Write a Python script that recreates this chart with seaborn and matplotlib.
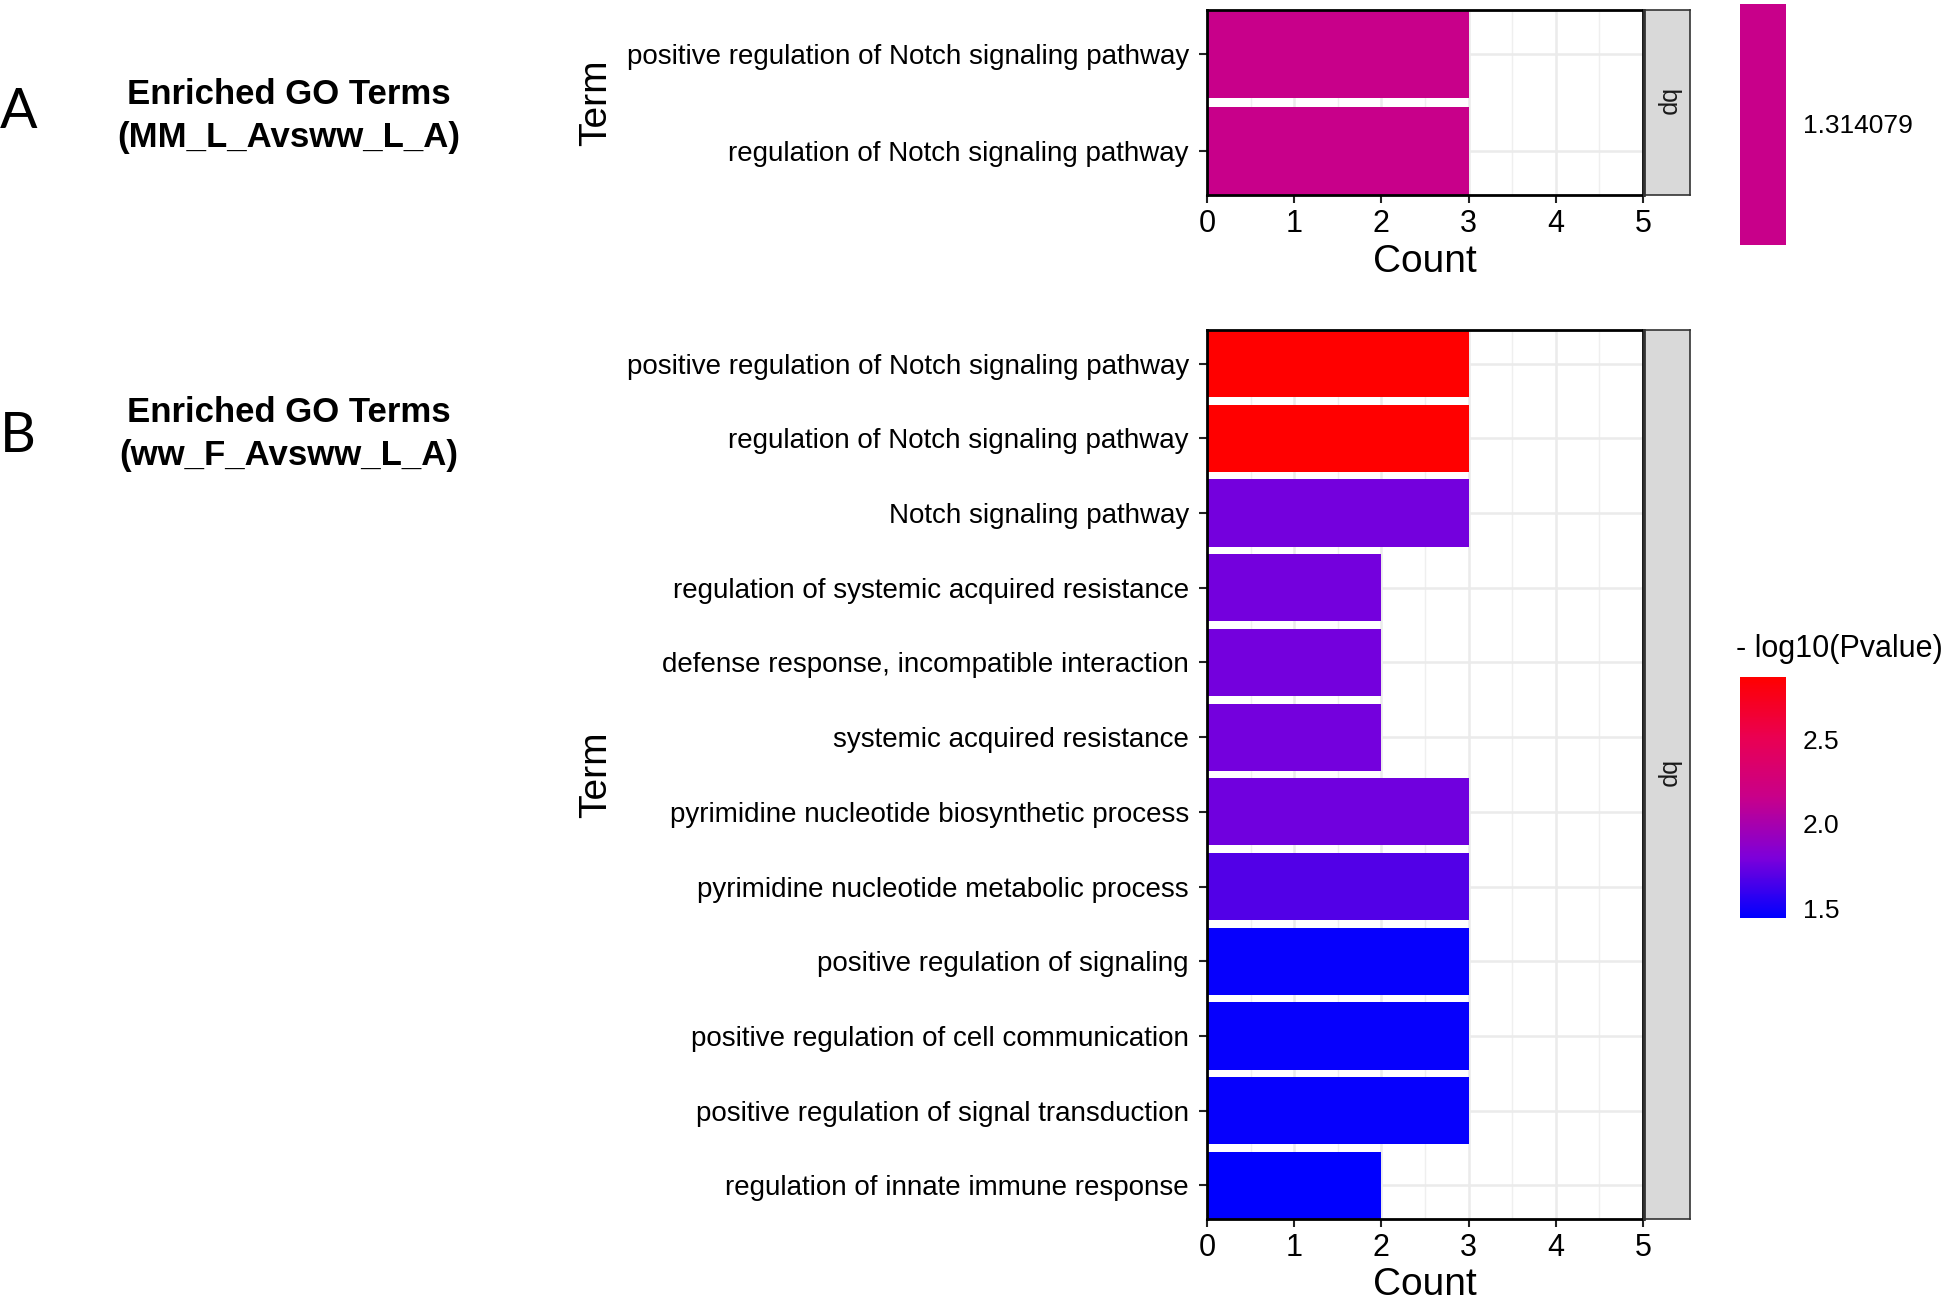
"""
GO enrichment bar charts (two comparisons) with -log10(Pvalue) colour scale.
Writes out.png.
"""

import matplotlib as mpl
import matplotlib.pyplot as plt
import numpy as np
import pandas as pd
import seaborn as sns
from matplotlib.colors import LinearSegmentedColormap, ListedColormap, Normalize

# --- data -----------------------------------------------------------------
terms_a = [
    "positive regulation of Notch signaling pathway",
    "regulation of Notch signaling pathway",
]
counts_a = [3, 3]
logp_a = [1.314079, 1.314079]

terms_b = [
    "positive regulation of Notch signaling pathway",
    "regulation of Notch signaling pathway",
    "Notch signaling pathway",
    "regulation of systemic acquired resistance",
    "defense response, incompatible interaction",
    "systemic acquired resistance",
    "pyrimidine nucleotide biosynthetic process",
    "pyrimidine nucleotide metabolic process",
    "positive regulation of signaling",
    "positive regulation of cell communication",
    "positive regulation of signal transduction",
    "regulation of innate immune response",
]
counts_b = [3, 3, 3, 2, 2, 2, 3, 3, 3, 3, 3, 2]
logp_b = [2.868, 2.868, 1.77, 1.77, 1.77, 1.77, 1.76, 1.68, 1.46, 1.46, 1.46, 1.441]
cbar_ticks_b = [1.5, 2.0, 2.5]

titles = ["Enriched GO Terms\n(MM_L_Avsww_L_A)", "Enriched GO Terms\n(ww_F_Avsww_L_A)"]
panel_tags = ["A", "B"]

# blue -> red gradient, roughly what ggplot's Lab interpolation gives
grad = LinearSegmentedColormap.from_list(
    "bluered",
    [(0.0, "#0000FF"), (0.25, "#7D00DA"), (0.5, "#C8008A"), (0.75, "#EA0052"), (1.0, "#FF0000")],
)

sns.set_style("white")
plt.rcParams["font.family"] = ["Liberation Sans", "DejaVu Sans"]
plt.rcParams["text.color"] = "black"
plt.rcParams["axes.labelcolor"] = "black"

W, H = 1944, 1301
fig = plt.figure(figsize=(W / 100, H / 100), dpi=100)


def frac_box(x0, y0, x1, y1):
    # pixel box (top-left origin) -> figure fraction rect
    return [x0 / W, 1 - y1 / H, (x1 - x0) / W, (y1 - y0) / H]


def draw_panel(box, terms, counts, colors, xlab_y):
    ax = fig.add_axes(frac_box(*box))
    df = pd.DataFrame({"Term": terms, "Count": counts})
    sns.barplot(
        data=df, x="Count", y="Term", hue="Term", palette=colors, dodge=False,
        legend=False, width=0.9, saturation=1, linewidth=0, orient="h", ax=ax,
    )
    n = len(terms)
    ax.set_xlim(0, 5)
    ax.set_ylim(n - 1 + 0.45, -0.45)
    ax.set_xticks(range(6))
    ax.set_xticks(np.arange(0.5, 5, 1), minor=True)
    ax.grid(True, which="major", color="#EBEBEB", lw=1.8)
    ax.grid(True, which="minor", axis="x", color="#EFEFEF", lw=1.0)
    ax.set_axisbelow(True)
    for sp in ax.spines.values():
        sp.set_color("black")
        sp.set_linewidth(2)
    ax.tick_params(axis="both", which="major", direction="out", length=6, width=1.5,
                   color="#222222", labelsize=20, labelcolor="black", left=True, bottom=True)
    ax.tick_params(axis="x", labelsize=22, pad=4)
    ax.tick_params(axis="y", pad=7)
    ax.tick_params(which="minor", length=0)
    ax.set_xlabel("Count", fontsize=28)
    ax.set_ylabel("Term", fontsize=28)
    ax.xaxis.set_label_coords(0.5, xlab_y)
    ax.yaxis.set_label_coords(-1.36, 0.5)

    # facet strip on the right
    x0, y0, x1, y1 = box
    sax = fig.add_axes(frac_box(x1 + 1, y0, 1690, y1))
    sax.set_facecolor("#D9D9D9")
    sax.set_xticks([])
    sax.set_yticks([])
    for sp in sax.spines.values():
        sp.set_color("#333333")
        sp.set_linewidth(1.2)
    sax.spines["left"].set_linewidth(2)
    sax.text(0.5, 0.5, "bp", rotation=-90, ha="center", va="center", fontsize=18,
             transform=sax.transAxes, color="#1A1A1A")
    return ax


# panel A: a single value, ggplot puts it at the middle of the scale
mid_color = grad(0.5)
draw_panel((1207, 10, 1643, 195), terms_a, counts_a, [mid_color] * len(terms_a), -0.265)

# panel B
norm_b = Normalize(vmin=1.441, vmax=2.868)
colors_b = [grad(norm_b(v)) for v in logp_b]
draw_panel((1207, 330, 1643, 1219), terms_b, counts_b, colors_b, -0.054)

# colour bars
cax_a = fig.add_axes(frac_box(1740, 4, 1786, 245))
sm_a = mpl.cm.ScalarMappable(norm=Normalize(1.30, 1.328), cmap=ListedColormap([mid_color]))
cb_a = fig.colorbar(sm_a, cax=cax_a)
cb_a.set_ticks([logp_a[0]], labels=[f"{logp_a[0]:.6f}"])

cax_b = fig.add_axes(frac_box(1740, 677, 1786, 918))
sm_b = mpl.cm.ScalarMappable(norm=norm_b, cmap=grad)
cb_b = fig.colorbar(sm_b, cax=cax_b)
cb_b.set_ticks(cbar_ticks_b, labels=[f"{t:.1f}" for t in cbar_ticks_b])

for cb in (cb_a, cb_b):
    cb.outline.set_visible(False)
    cb.ax.tick_params(axis="y", direction="in", length=9, width=1.5, color="white",
                      left=True, right=True, labelleft=False, labelright=True,
                      labelsize=19, labelcolor="black", pad=12)

fig.text(1736 / W, 1 - 649 / H, "- log10(Pvalue)", ha="left", va="center", fontsize=22)

# panel tags and titles on the left
for tag, title, y_tag, y_title in zip(panel_tags, titles, [112, 437], [116, 434]):
    fig.text(0.0, 1 - y_tag / H, tag, ha="left", va="center", fontsize=40,
             family=["Lato", "DejaVu Sans"], fontweight="normal", color="black")
    fig.text(289 / W, 1 - y_title / H, title, ha="center", va="center", fontsize=25,
             fontweight="bold", linespacing=1.35, color="black")

fig.savefig("out.png", dpi=100)
